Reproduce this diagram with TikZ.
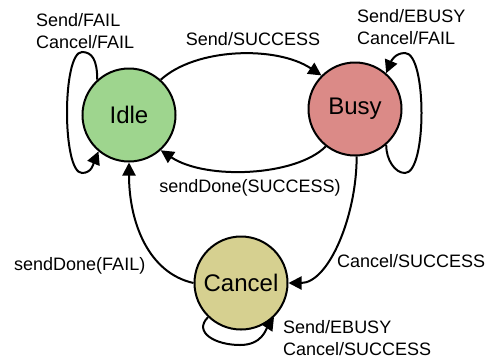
\documentclass[tikz,border=0pt]{standalone}
\usepackage{fontspec}
\setmainfont{Liberation Sans}
\usetikzlibrary{arrows.meta}
\definecolor{idlecol}{RGB}{158,213,142}
\definecolor{busycol}{RGB}{219,138,135}
\definecolor{cancelcol}{RGB}{214,208,144}
\begin{document}
\begin{tikzpicture}[x=1bp,y=-1bp,
  state/.style={circle,draw=black,line width=2bp,minimum size=93bp,inner sep=0pt,font=\fontsize{24bp}{28bp}\selectfont},
  lbl/.style={font=\fontsize{18bp}{22bp}\selectfont,align=left,inner sep=0pt},
  edge/.style={line width=2bp,-{Triangle[length=13bp,width=13bp]}}]
\useasboundingbox (0,0) rectangle (494,360);
\node[state,fill=idlecol] (idle) at (129,115) {Idle};
\node[state,fill=busycol] (busy) at (355,109) {Busy};
\node[state,fill=cancelcol] (cancel) at (241,283) {Cancel};

\coordinate (itop) at (82,52);
\coordinate (ibot) at (82,173);
\coordinate (btop) at (405,53);
\coordinate (bbot) at (405,173);
\coordinate (cbot) at (240,345);

% Idle -> Busy
\draw[edge] (idle.48) .. controls +(35,-32) and +(-45,-30) .. (busy.135);
% Busy -> Idle
\draw[edge] (busy.232) .. controls +(-30,30) and +(45,30) .. (idle.-48);
% Idle self loop
\draw[edge] (idle.132) .. controls +(0,-20) and +(10,0) .. (itop)
  .. controls +(-20,0) and +(-20,0) .. (ibot)
  .. controls +(10,0) and +(-5,12) .. (idle.230);
% Busy self loop
\draw[edge] (busy.-49) .. controls +(0,15) and +(-10,0) .. (bbot)
  .. controls +(22,0) and +(22,0) .. (btop)
  .. controls +(-10,0) and +(5,-12) .. (busy.49);
% Busy -> Cancel
\draw[edge] (busy.272) .. controls +(0,60) and +(40,0) .. (cancel.east);
% Cancel -> Idle
\draw[edge] (cancel.west) .. controls +(-45,-10) and +(0,60) .. (idle.south);
% Cancel self loop
\draw[edge] (cancel.226) .. controls +(-15,15) and +(-25,0) .. (cbot)
  .. controls +(22,0) and +(-8,12) .. (cancel.-46);

\node[lbl,anchor=west] (l1) at (36,31) {Send/FAIL\\Cancel/FAIL};
\node[lbl] (l2) at (253,39) {Send/SUCCESS};
\node[lbl,anchor=west] (l3) at (357,27) {Send/EBUSY\\Cancel/FAIL};
\node[lbl] (l4) at (250,188) {sendDone(SUCCESS)};
\node[lbl,anchor=west] (l5) at (14,266) {sendDone(FAIL)};
\node[lbl,anchor=west] (l6) at (337,261) {Cancel/SUCCESS};
\node[lbl,anchor=west] (l7) at (283,338) {Send/EBUSY\\Cancel/SUCCESS};
\end{tikzpicture}
\end{document}
